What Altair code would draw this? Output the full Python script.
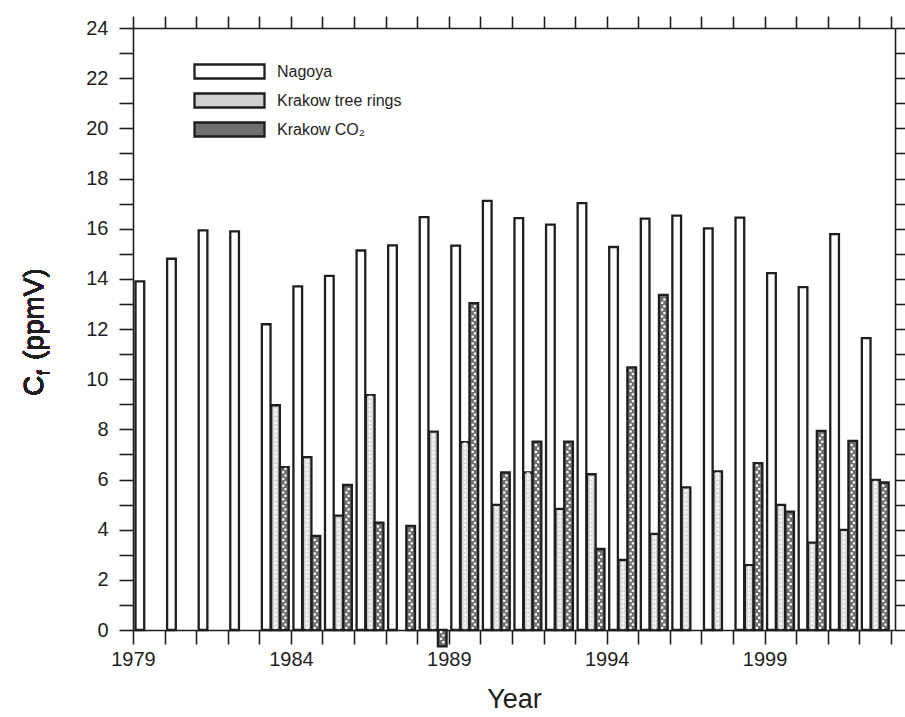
import altair as alt
import pandas as pd

years = list(range(1979, 2003))
nagoya = [13.9, 14.8, 15.93, 15.89, 12.19, 13.70, 14.12, 15.13, 15.33, 16.46, 15.32, 17.11,
          16.42, 16.16, 17.02, 15.27, 16.40, 16.52, 16.01, 16.44, 14.23, 13.67, 15.78, 11.64]
tree_rings = [None, None, None, None, 8.96, 6.89, 4.56, 9.36, None, 7.91, 7.49, 4.99,
              6.28, 4.83, 6.21, 2.79, 3.83, 5.69, 6.32, 2.59, 4.99, 3.48, 3.99, 5.98]
co2 = [None, None, None, None, 6.49, 3.75, 5.78, 4.28, 4.15, -0.65, 13.03, 6.28,
       7.51, 7.51, 3.23, 10.47, 13.36, None, None, 6.65, 4.72, 7.94, 7.54, 5.88]

series_names = ["Nagoya", "Krakow tree rings", "Krakow CO\u2082"]
year_ticks = list(range(1979, 2004))
y_ticks = list(range(0, 25))

rows = []
for name, vals in zip(series_names, [nagoya, tree_rings, co2]):
    for y, v in zip(years, vals):
        if v is not None:
            rows.append({"year": y, "series": name, "value": v})
df = pd.DataFrame(rows)

# texture dots derived from the bar values (decoration inside bars)
tex_rows = []
for name, vals, step in [(series_names[1], tree_rings, 0.17), (series_names[2], co2, 0.135)]:
    for y, v in zip(years, vals):
        if v is None:
            continue
        sgn = 1 if v >= 0 else -1
        k = 0
        while (k + 0.6) * step < abs(v) - 0.05:
            tex_rows.append({"year": y, "series": name, "ty": sgn * (k + 0.6) * step,
                             "alt": k % 2})
            k += 1
tex = pd.DataFrame(tex_rows)

FONT = "Liberation Sans"
INK = "#1e1e1e"

xscale = alt.Scale(domain=[1979, 2003.13], nice=False, zero=False)
yscale = alt.Scale(domain=[0, 24], nice=False, zero=False)

offset_expr = ("(datum.series == 'Nagoya' ? 0.08 : "
               "(datum.series == 'Krakow tree rings' ? 0.375 : 0.655))")

bars = alt.Chart(df).transform_calculate(
    xs="datum.year + " + offset_expr,
).transform_calculate(
    xe="datum.xs + 0.275",
    zero="0",
).mark_rect(stroke=INK, strokeWidth=2.3).encode(
    x=alt.X("xs:Q", scale=xscale,
            axis=alt.Axis(values=year_ticks, format="d",
                          labelExpr="datum.value % 5 == 4 ? datum.label : ''",
                          tickSize=14, tickWidth=1.6, tickColor=INK,
                          domainColor=INK, domainWidth=1.6,
                          labelFontSize=20, labelFont=FONT, labelColor=INK,
                          labelPadding=5, labelFlush=False,
                          title="Year", titleFont=FONT, titleFontSize=27,
                          titleFontWeight="normal", titleColor=INK,
                          titlePadding=17, grid=False)),
    x2="xe:Q",
    y=alt.Y("value:Q", scale=yscale,
            axis=alt.Axis(values=y_ticks,
                          labelExpr="datum.value % 2 == 0 ? datum.label : ''",
                          tickSize=14, tickWidth=1.6, tickColor=INK,
                          domainColor=INK, domainWidth=1.6,
                          labelFontSize=20, labelFont=FONT, labelColor=INK,
                          labelPadding=11, title=None, grid=False)),
    y2="zero:Q",
    fill=alt.Fill("series:N",
                  scale=alt.Scale(domain=series_names,
                                  range=["#ffffff", "#d0d0d0", "#6e6e6e"]),
                  legend=alt.Legend(orient="none", legendX=88, legendY=35,
                                    title=None,
                                    symbolType="M-5,-1H5V1H-5Z",
                                    symbolSize=196, symbolStrokeColor=INK,
                                    symbolStrokeWidth=2.3, symbolOpacity=1,
                                    labelFont=FONT, labelFontSize=16,
                                    labelColor=INK, labelOffset=39,
                                    rowPadding=4)),
)

tree_tex = alt.Chart(tex).transform_filter(
    "datum.series == 'Krakow tree rings'"
).transform_calculate(
    tx="datum.year + 0.5125"
).mark_point(shape="cross", angle=45, filled=True, fill="#f4f4f4",
             size=16, opacity=1).encode(
    x=alt.X("tx:Q", scale=xscale, axis=None),
    y=alt.Y("ty:Q", scale=yscale, axis=None),
)

co2_tex = alt.Chart(tex).transform_filter(
    "datum.series != 'Krakow tree rings'"
).transform_calculate(
    tx="datum.year + 0.7925 + (datum.alt == 1 ? 0.035 : -0.035)"
).mark_square(fill="#ffffff", size=5, opacity=1).encode(
    x=alt.X("tx:Q", scale=xscale, axis=None),
    y=alt.Y("ty:Q", scale=yscale, axis=None),
)

frame = alt.Chart(df).mark_point(opacity=0).encode(
    x=alt.X("year:Q", scale=xscale,
            axis=alt.Axis(orient="top", values=year_ticks, labels=False,
                          tickSize=12, tickWidth=1.6, tickColor=INK,
                          domainColor=INK, domainWidth=1.6,
                          title=None, grid=False)),
    y=alt.Y("value:Q", scale=yscale,
            axis=alt.Axis(orient="right", values=y_ticks, labels=False,
                          tickSize=10, tickWidth=1.6, tickColor=INK,
                          domainColor=INK, domainWidth=1.6,
                          title=None, grid=False)),
)

title_c = alt.Chart(df).mark_text(
    text="C", angle=270, align="left", baseline="alphabetic",
    font=FONT, fontSize=28, color=INK
).encode(x=alt.value(-90), y=alt.value(368))

title_f = alt.Chart(df).mark_text(
    text="f", angle=270, align="left", baseline="alphabetic",
    font=FONT, fontSize=17, color=INK
).encode(x=alt.value(-84), y=alt.value(347))

title_rest = alt.Chart(df).mark_text(
    text="(ppmV)", angle=270, align="left", baseline="alphabetic",
    font=FONT, fontSize=28, color=INK
).encode(x=alt.value(-90), y=alt.value(332))

chart = alt.layer(bars, tree_tex, co2_tex, frame, title_c, title_f, title_rest).resolve_axis(
    x="independent", y="independent"
).properties(
    width=762, height=602,
    autosize=alt.AutoSizeParams(type="none"),
    padding={"left": 133, "top": 28, "right": 10, "bottom": 87},
    background="white",
).configure_view(stroke=None)

chart.save("out.html", embed_options={"renderer": "svg", "actions": False})
